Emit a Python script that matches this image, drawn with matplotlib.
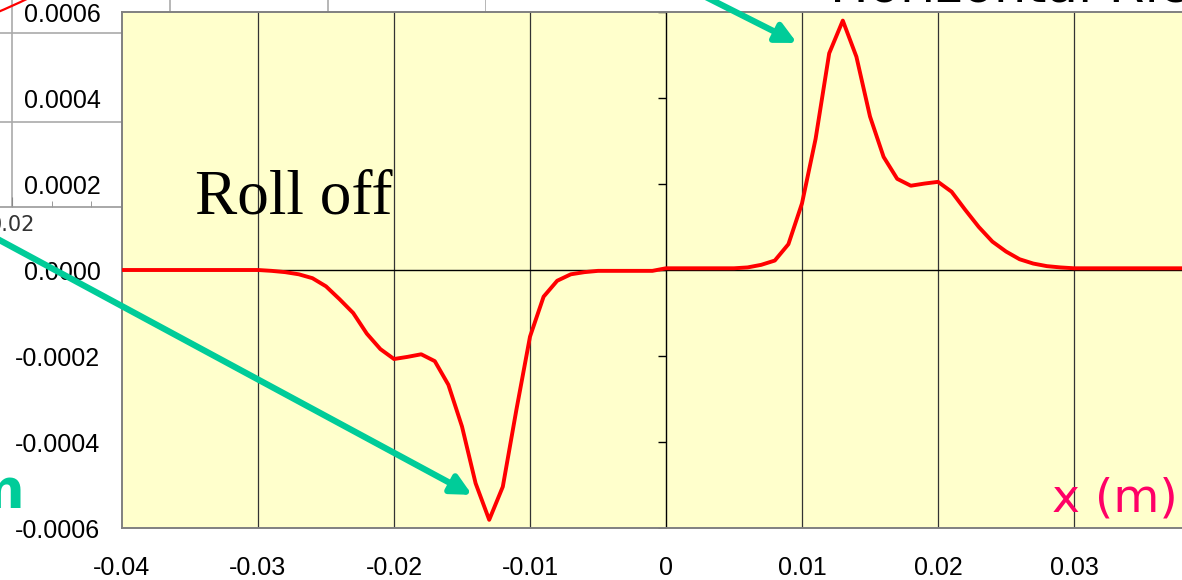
import matplotlib
matplotlib.use('Agg')
import matplotlib.pyplot as plt

# field integral profile (x in m)
x_m = [-0.040, -0.030, -0.029, -0.028, -0.027, -0.026, -0.025, -0.024,
       -0.023, -0.022, -0.021, -0.020, -0.019, -0.018, -0.017, -0.016,
       -0.015, -0.014, -0.013, -0.012, -0.011, -0.010, -0.009, -0.008,
       -0.007, -0.006, -0.005, -0.001, 0.000, 0.005, 0.006, 0.007,
       0.008, 0.009, 0.010, 0.011, 0.012, 0.013, 0.014, 0.015,
       0.016, 0.017, 0.018, 0.019, 0.020, 0.021, 0.022, 0.023,
       0.024, 0.025, 0.026, 0.027, 0.028, 0.029, 0.030, 0.040]
field = [0.0, 0.0, -0.000002, -0.000005, -0.000010, -0.000019, -0.000038, -0.000068,
         -0.000100, -0.000148, -0.000184, -0.000207, -0.000202, -0.000196, -0.000212, -0.000267,
         -0.000364, -0.000496, -0.000581, -0.000504, -0.000325, -0.000155, -0.000062, -0.000025,
         -0.000010, -0.000005, -0.000002, -0.000002, 0.000004, 0.000004, 0.000006, 0.000012,
         0.000022, 0.000060, 0.000155, 0.000305, 0.000504, 0.000580, 0.000496, 0.000357,
         0.000263, 0.000212, 0.000196, 0.000201, 0.000205, 0.000182, 0.000140, 0.000100,
         0.000066, 0.000043, 0.000025, 0.000015, 0.000009, 0.000006, 0.000004, 0.000004]

x_ticks = [-0.04, -0.03, -0.02, -0.01, 0.0, 0.01, 0.02, 0.03]
x_labels = ['-0.04', '-0.03', '-0.02', '-0.01', '0', '0.01', '0.02', '0.03']
y_ticks = [0.0006, 0.0004, 0.0002, 0.0, -0.0002, -0.0004, -0.0006]
y_labels = ['0.0006', '0.0004', '0.0002', '0.0000', '-0.0002', '-0.0004', '-0.0006']
grid_x = [-0.03, -0.02, -0.01, 0.01, 0.02, 0.03]

# piece of the slide's other chart peeking out behind
bg_x = [0.0185, 0.0195, 0.0205, 0.0215]
bg_y = [0.000438, 0.000453, 0.000469, 0.000486]
bg_ticks = [0.01, 0.02, 0.03, 0.04, 0.05]
bg_labels = ['', '0.02', '', '', '']  # the rest sit under the main chart
bg_grid_y = [0.0002, 0.0004]

GREEN = '#00CC99'
W, H = 1182, 580

fig = plt.figure(figsize=(W / 100, H / 100), dpi=100)

# background chart
bg = fig.add_axes([-146 / W, (H - 207) / H, 632 / W, 356 / H], zorder=0)
bg.set_xlim(0.01, 0.05)
bg.set_ylim(0.000009, 0.000809)
bg.plot(bg_x, bg_y, color='red', lw=1.6)
bg.set_xticks(bg_ticks)
bg.set_xticklabels(bg_labels)
bg.set_xticks([0.0125, 0.015, 0.0175, 0.0225, 0.025, 0.0275], minor=True)
bg.set_yticks(bg_grid_y)
bg.set_yticklabels([])
bg.tick_params(axis='x', which='major', direction='in', length=7, color='#888888',
               pad=6, labelsize=15, labelcolor='#333333')
bg.tick_params(axis='x', which='minor', direction='in', length=4, color='#888888')
bg.tick_params(axis='y', length=0)
bg.grid(True, color='#aaaaaa', lw=1.2)
for side in ['left', 'top', 'right']:
    bg.spines[side].set_visible(False)
bg.spines['bottom'].set_color('#999999')
bg.spines['bottom'].set_linewidth(1.2)

# main chart
ax = fig.add_axes([122 / W, 52 / H, 1088 / W, 516 / H], zorder=2)
ax.set_facecolor('#FFFFCC')
ax.set_xlim(-0.04, 0.04)
ax.set_ylim(-0.0006, 0.0006)
for gx in grid_x:
    ax.axvline(gx, color='#333333', lw=0.9, zorder=1)
ax.axvline(0, color='black', lw=1.0, zorder=1)
ax.axhline(0, color='black', lw=1.0, zorder=1)
ax.plot([0] * len(y_ticks), y_ticks, ls='none', marker=0, markersize=6,
        markeredgewidth=1.0, color='black', zorder=1)
ax.plot(x_m, field, color='#FF0000', lw=2.8, zorder=3)

ax.set_xticks(x_ticks)
ax.set_xticklabels(x_labels)
ax.set_yticks(y_ticks)
ax.set_yticklabels(y_labels)
ax.tick_params(axis='x', length=0, pad=20, labelsize=18)
ax.tick_params(axis='y', length=0, pad=15.5, labelsize=18)
for lab in ax.get_xticklabels() + ax.get_yticklabels():
    lab.set_fontfamily('Liberation Sans')
ax.spines['right'].set_visible(False)
for side in ['left', 'top', 'bottom']:
    ax.spines[side].set_color('#808080')
    ax.spines[side].set_linewidth(1.4)

arrow = dict(arrowstyle='-|>', color=GREEN, lw=4.5, mutation_scale=30,
             shrinkA=0, shrinkB=0)
ax.annotate('', xy=(-0.01426, -0.000523), xycoords='data',
            xytext=(-60, 372), textcoords='figure pixels',
            arrowprops=arrow, annotation_clip=False, zorder=5)
ax.annotate('', xy=(0.00963, 0.000528), xycoords='data',
            xytext=(690, 591), textcoords='figure pixels',
            arrowprops=arrow, annotation_clip=False, zorder=5)

fig.text(195 / W, (H - 213) / H, 'Roll off', family='Liberation Serif',
         fontsize=45.5, va='baseline', zorder=6)
fig.text(830 / W, 578 / H, 'Horizontal Ric', fontsize=37, va='baseline', zorder=6)
fig.text(1052 / W, 68 / H, 'x (m)', color='#FF0066', fontsize=34,
         va='baseline', zorder=6)
fig.text(24 / W, (H - 508) / H, 'm', color=GREEN, fontsize=40,
         fontweight='bold', ha='right', va='baseline', zorder=6)

fig.savefig('out.png', dpi=100)
